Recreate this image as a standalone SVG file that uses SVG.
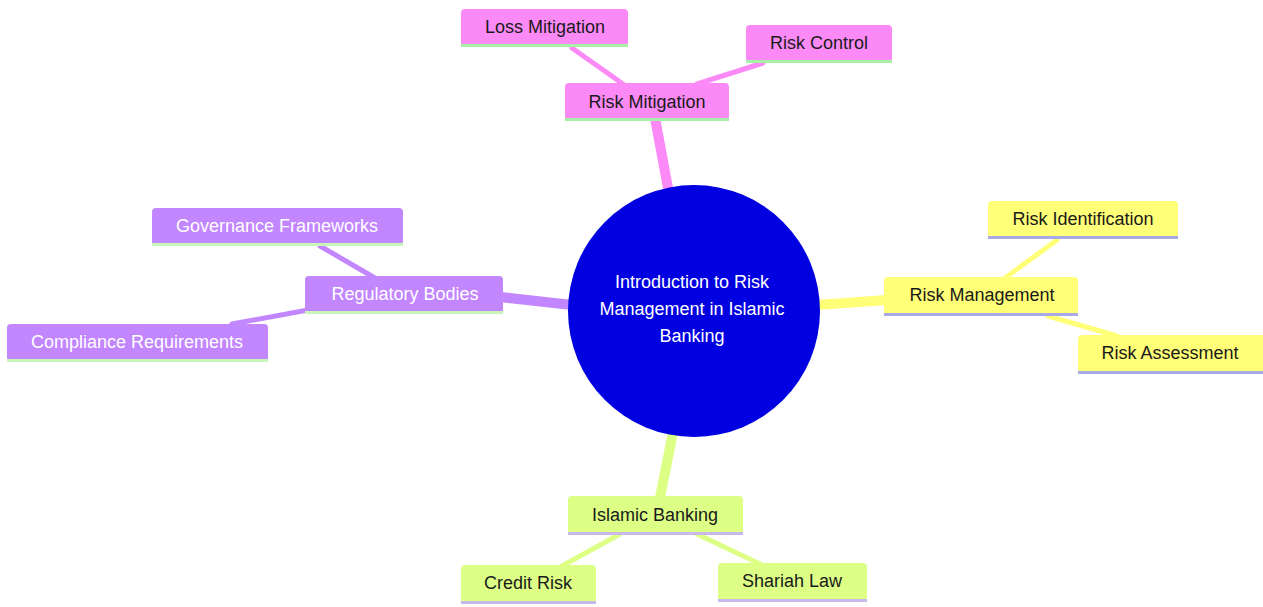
<svg xmlns="http://www.w3.org/2000/svg" width="1263" height="607" viewBox="0 0 1263 607">
<style>
text{font-family:"Liberation Sans",Arial,sans-serif;font-size:18px;text-anchor:middle;dominant-baseline:central}
.pk{fill:#fb8af7}.pu{fill:#c286ff}.ye{fill:#ffff78}.gr{fill:#ddff86}
.dark{fill:#1a1a1a}.light{fill:#fff}
.e{fill:none;stroke-linecap:round}
.e1{stroke-width:10}.e2{stroke-width:5}
</style>
<rect width="1263" height="607" fill="#fff"/>
<g id="connectors">
<line class="e e1" stroke="#fb8af7" x1="655" y1="118" x2="668" y2="188"/>
<line class="e e2" stroke="#fb8af7" x1="572" y1="48" x2="623" y2="84"/>
<line class="e e2" stroke="#fb8af7" x1="763" y1="63" x2="697" y2="84"/>
<line class="e e1" stroke="#c286ff" x1="500" y1="297" x2="572" y2="305"/>
<line class="e e2" stroke="#c286ff" x1="320" y1="246" x2="375" y2="278"/>
<line class="e e2" stroke="#c286ff" x1="232" y1="324" x2="308" y2="310"/>
<line class="e e1" stroke="#ffff78" x1="816" y1="305" x2="887" y2="300"/>
<line class="e e2" stroke="#ffff78" x1="1057" y1="240" x2="1005" y2="278"/>
<line class="e e2" stroke="#ffff78" x1="1117" y1="336" x2="1048" y2="316"/>
<line class="e e1" stroke="#ddff86" x1="673" y1="432" x2="660" y2="498"/>
<line class="e e2" stroke="#ddff86" x1="620" y1="534" x2="562" y2="566"/>
<line class="e e2" stroke="#ddff86" x1="697" y1="534" x2="760" y2="564"/>
</g>
<g id="root">
<circle cx="694" cy="311" r="126" fill="#0000e0"/>
<text class="light" x="692" y="282">Introduction to Risk</text>
<text class="light" x="692" y="309">Management in Islamic</text>
<text class="light" x="692" y="336">Banking</text>
</g>
<g id="risk-mitigation">
<rect class="pk" x="565" y="83" width="164" height="37" rx="4"/>
<rect x="565" y="118" width="164" height="3" fill="#a8f0a8"/>
<text class="dark" x="647" y="102">Risk Mitigation</text>
</g>
<g id="loss-mitigation">
<rect class="pk" x="461" y="9" width="167" height="37" rx="4"/>
<rect x="461" y="44" width="167" height="3" fill="#a8f0a8"/>
<text class="dark" x="545" y="27">Loss Mitigation</text>
</g>
<g id="risk-control">
<rect class="pk" x="746" y="25" width="146" height="37" rx="4"/>
<rect x="746" y="60" width="146" height="3" fill="#a8f0a8"/>
<text class="dark" x="819" y="43">Risk Control</text>
</g>
<g id="regulatory-bodies">
<rect class="pu" x="305" y="276" width="198" height="37" rx="4"/>
<rect x="305" y="311" width="198" height="3" fill="#c8f5b8"/>
<text class="light" x="405" y="294">Regulatory Bodies</text>
</g>
<g id="governance-frameworks">
<rect class="pu" x="152" y="208" width="251" height="37" rx="4"/>
<rect x="152" y="243" width="251" height="3" fill="#c8f5b8"/>
<text class="light" x="277" y="226">Governance Frameworks</text>
</g>
<g id="compliance-requirements">
<rect class="pu" x="7" y="324" width="261" height="37" rx="4"/>
<rect x="7" y="359" width="261" height="3" fill="#c8f5b8"/>
<text class="light" x="137" y="342">Compliance Requirements</text>
</g>
<g id="risk-management">
<rect class="ye" x="884" y="277" width="194" height="38" rx="4"/>
<rect x="884" y="313" width="194" height="3" fill="#a9a9e8"/>
<text class="dark" x="982" y="295">Risk Management</text>
</g>
<g id="risk-identification">
<rect class="ye" x="988" y="201" width="190" height="37" rx="4"/>
<rect x="988" y="236" width="190" height="3" fill="#a9a9e8"/>
<text class="dark" x="1083" y="219">Risk Identification</text>
</g>
<g id="risk-assessment">
<rect class="ye" x="1078" y="335" width="190" height="38" rx="4"/>
<rect x="1078" y="371" width="190" height="3" fill="#a9a9e8"/>
<text class="dark" x="1170" y="353">Risk Assessment</text>
</g>
<g id="islamic-banking">
<rect class="gr" x="568" y="496" width="175" height="38" rx="4"/>
<rect x="568" y="532" width="175" height="3" fill="#c8b8ec"/>
<text class="dark" x="655" y="515">Islamic Banking</text>
</g>
<g id="credit-risk">
<rect class="gr" x="461" y="565" width="135" height="38" rx="4"/>
<rect x="461" y="601" width="135" height="3" fill="#c8b8ec"/>
<text class="dark" x="528" y="583">Credit Risk</text>
</g>
<g id="shariah-law">
<rect class="gr" x="718" y="563" width="149" height="38" rx="4"/>
<rect x="718" y="599" width="149" height="3" fill="#c8b8ec"/>
<text class="dark" x="792" y="581">Shariah Law</text>
</g>
</svg>
